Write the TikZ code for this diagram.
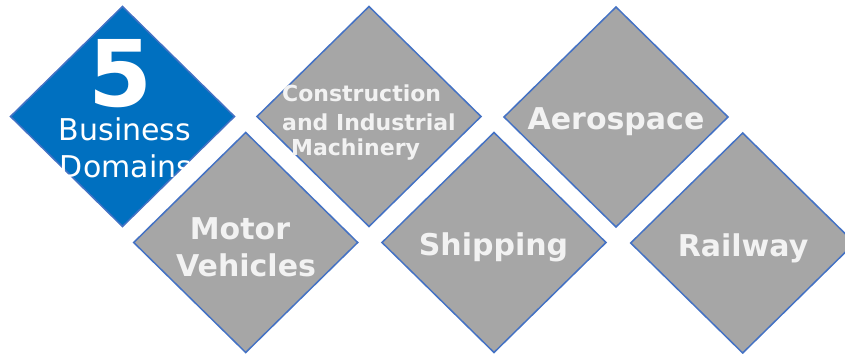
\documentclass[tikz,border=0pt]{standalone}
\usepackage{fontspec}
\setmainfont{DejaVu Sans}
\definecolor{domblue}{HTML}{0070C0}
\definecolor{edgeblue}{HTML}{4472C4}
\definecolor{dgray}{HTML}{A6A6A6}
\definecolor{txtw}{HTML}{F2F2F2}
\tikzset{
  pics/dmd/.style={code={
    \path[#1] (-112,0) -- (0,-110) -- (112,0) -- (0,110) -- cycle;}},
  bluedia/.style={fill=domblue, draw=edgeblue, line width=1.5pt},
  graydia/.style={fill=dgray, draw=edgeblue, line width=1.5pt},
  halo/.style={draw=white, line width=26pt, line join=round},
  bigtxt/.style={font=\bfseries\fontsize{30}{36}\selectfont, text=txtw, inner sep=0pt, anchor=base},
  smalltxt/.style={font=\bfseries\fontsize{22}{27}\selectfont, text=txtw, inner sep=0pt, anchor=base west},
  bustxt/.style={font=\fontsize{30}{36}\selectfont, text=white, inner sep=0pt, anchor=base},
}
\begin{document}
\begin{tikzpicture}[x=1pt,y=-1pt]
\useasboundingbox (0,0) rectangle (845,353);
\clip (0,0) rectangle (845,353);
% top row
\pic at (122.5,116.5) {dmd=bluedia};
\node[font=\bfseries\fontsize{92}{92}\selectfont, text=white, inner sep=0pt, anchor=base] (five) at (121,106.5) {5};
\node[bustxt] (bus) at (125,140.5) {Business};
\node[bustxt] (dom) at (126,177) {Domains};
\pic at (369,116.5) {dmd=graydia};
\node[smalltxt] (con1) at (282,101.7) {Construction};
\node[smalltxt] (con2) at (282,130) {and Industrial};
\node[smalltxt] (con3) at (291,155) {Machinery};
\pic at (616,117) {dmd=graydia};
\node[bigtxt] (aero) at (616,129) {Aerospace};
% bottom row
\pic at (245.7,242.5) {dmd=halo};
\pic at (245.7,242.5) {dmd=graydia};
\node[bigtxt] (mot1) at (240,239) {Motor};
\node[bigtxt] (mot2) at (246,276.7) {Vehicles};
\pic at (494,242.5) {dmd=halo};
\pic at (494,242.5) {dmd=graydia};
\node[bigtxt] (ship) at (493.5,255) {Shipping};
\pic at (742.7,243) {dmd=halo};
\pic at (742.7,243) {dmd=graydia};
\node[bigtxt] (rail) at (743,256.7) {Railway};
\end{tikzpicture}
\end{document}
